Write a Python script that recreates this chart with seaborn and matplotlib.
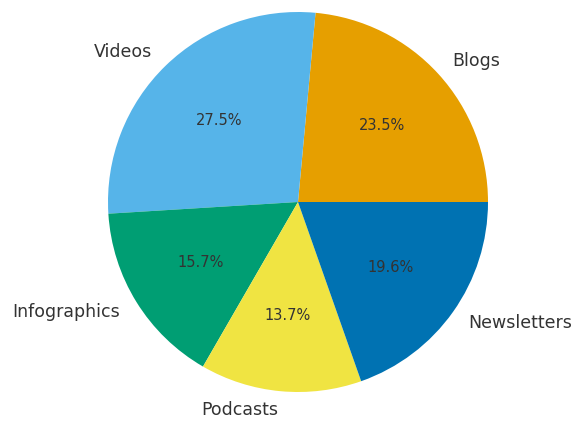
import matplotlib
matplotlib.use("Agg")
import matplotlib.pyplot as plt
import seaborn as sns

# Content type shares
categories = ["Blogs", "Videos", "Infographics", "Podcasts", "Newsletters"]
counts = [12, 14, 8, 7, 10]
slice_colors = ["#E69F00", "#56B4E9", "#009E73", "#F0E442", "#0072B2"]

sns.set_theme(style="white")
plt.rcParams["font.family"] = ["DejaVu Sans"]

fig = plt.figure(figsize=(5.71, 4.21), dpi=100)
ax = fig.add_axes([60.5 / 571, (421 - 439.5) / 421, 475 / 571, 475 / 421])

wedges, texts, autotexts = ax.pie(
    counts,
    labels=categories,
    colors=sns.color_palette(slice_colors),
    autopct="%1.1f%%",
    startangle=0,
    labeldistance=1.1,
    pctdistance=0.6,
    wedgeprops={"linewidth": 0, "edgecolor": "none"},
    textprops={"color": "0.2"},
)
for t in texts:
    t.set_fontsize(12.5)
for t in autotexts:
    t.set_fontsize(10.5)
ax.set_aspect("equal")

fig.savefig("out.png", dpi=100)
